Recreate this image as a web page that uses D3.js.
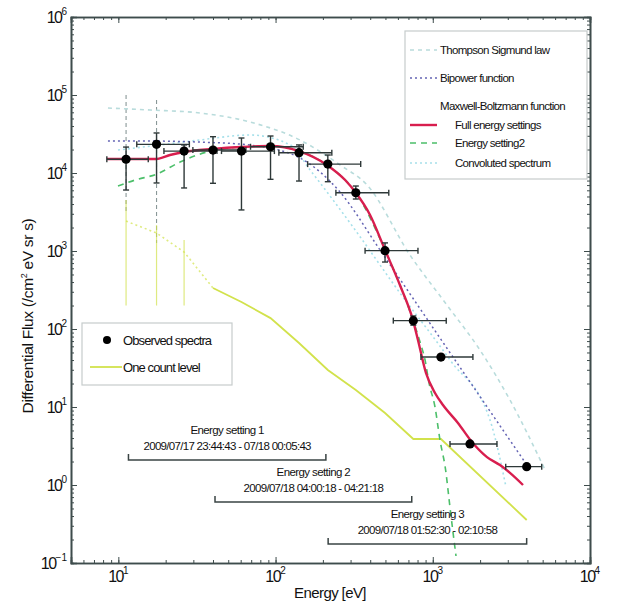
<!DOCTYPE html>
<html><head><meta charset="utf-8">
<script src="https://cdn.jsdelivr.net/npm/d3@7"></script>
<style>
body{margin:0;background:#fff;}
text{font-family:"Liberation Sans",Arial,sans-serif;fill:#111;}
</style></head><body>
<svg id="chart" width="628" height="603"></svg>
<script>
// ---------- data ----------
const xMajor = [10, 100, 1000, 10000];
const xMajorExp = ["1", "2", "3", "4"];
const yMajor = [0.1, 1, 10, 100, 1000, 10000, 100000, 1000000];
const yMajorExp = ["\u22121", "0", "1", "2", "3", "4", "5", "6"];

const obsEnergy = [11.2, 17.5, 26.2, 40.0, 60.7, 92.9, 141, 215, 324, 497, 752, 1127, 1725, 3957];
const obsFlux   = [15000, 23300, 19100, 19700, 19100, 21700, 18200, 13000, 5580, 1010, 128, 43.7, 3.36, 1.72];
const obsELow   = [8.45, 13.1, 19.5, 29.8, 45.3, 69.3, 105, 160, 242, 371, 561, 841, 1287, 2910];
const obsEHigh  = [15.5, 28.3, 42.4, 64.8, 98.3, 150, 228, 348, 525, 805, 1218, 1800, 2560, 4930];
const obsFLow   = [6050, 7450, 6430, 7380, 3360, 8300, 7890, 7730, 4640, 722, 112, 41, 3.2, 1.65];
const obsFHigh  = [21500, 32600, 22900, 29200, 28100, 29800, 22900, 17000, 6810, 1270, 147, 46, 3.5, 1.8];

const fullEnergy = [8.47, 17.1, 21.3, 26.2, 40.0, 60.3, 92.3, 141, 212, 277, 325, 399, 497, 618, 748, 805, 905, 1033, 1161, 1446, 1775, 2212, 2675, 3097, 3749];
const fullFlux   = [15100, 15100, 17000, 18600, 20300, 21500, 22200, 19100, 12700, 8130, 5540, 2900, 1030, 366, 130, 72.3, 27.3, 15.1, 10.6, 6.24, 3.56, 2.28, 1.80, 1.43, 1.0];

const set2Energy = [9.95, 12.8, 17.6, 24.7, 36.6, 60.3, 92.3, 141, 212, 325, 497, 748, 830, 893, 947, 1033, 1111, 1214, 1250, 1286, 1405];
const set2Flux   = [6810, 8130, 9700, 13800, 18600, 21500, 22200, 19100, 12700, 5540, 1030, 130, 68, 40, 20.3, 10, 3.78, 1.43, 0.863, 0.523, 0.123];

const bipEnergy = [8.59, 15.9, 33.0, 68.7, 143, 192, 257, 462, 1111, 3970];
const bipFlux   = [25700, 25700, 24900, 22800, 15600, 10300, 5700, 1030, 76.7, 1.80];

const tsEnergy = [8.59, 15.9, 33.0, 68.7, 143, 257, 382, 716, 1230, 1995, 3097, 5180];
const tsFlux   = [68100, 64200, 58800, 45100, 26500, 12700, 7020, 889, 203, 53.8, 12.3, 1.56];

const convEnergy = [9.95, 18.4, 33.0, 68.7, 124, 166, 311, 618, 1286, 2312, 2924];
const convFlux   = [19700, 22900, 26500, 30700, 22900, 10900, 2030, 290, 40.1, 6.81, 0.94];

const ocEnergy = [11.2, 17.5, 26.2, 40.0, 60.7, 92.9, 141, 215, 324, 497, 752, 1127, 3957];
const ocFlux   = [2420, 1700, 971, 336, 222, 138, 66.2, 29.8, 16.5, 8.37, 3.89, 3.89, 0.356];
const ocErrEnergy = [11.2, 17.5, 26.2];
const ocErrLow    = [200, 200, 200];
const ocErrHigh   = [4510, 2150, 1380];

const fitErrEnergy = [11.2, 17.5];
const fitErrLow    = [3160, 1270];
const fitErrHigh   = [100000, 86300];

const settingStart = [11.6, 41.2, 216];
const settingEnd   = [209, 735, 3955];
const settingTitle = ["Energy setting 1", "Energy setting 2", "Energy setting 3"];
const settingTime  = ["2009/07/17 23:44:43 - 07/18 00:05:43", "2009/07/18 04:00:18 - 04:21:18", "2009/07/18 01:52:30 - 02:10:58"];

// ---------- scales ----------
const svg = d3.select("#chart");
const x = d3.scaleLog().domain([5, 1e4]).range([71, 590]);
const y = d3.scaleLog().domain([0.1, 1e6]).range([563, 17]);
const L = 71, R = 590, T = 17, B = 563;

const C = {
  red: "#d81e4e", green: "#4cbf6a", bip: "#6464b4", ts: "#b9dcdc", conv: "#a6e0ea",
  oc: "#d2e24c", err: "#2e3838", frame: "#3e4c4c"
};

svg.append("defs").append("clipPath").attr("id", "clip")
  .append("rect").attr("x", L).attr("y", T).attr("width", R - L).attr("height", B - T);

const plot = svg.append("g").attr("clip-path", "url(#clip)");
const zip = (a, b) => a.map((v, i) => [v, b[i]]);
const line = d3.line().x(d => x(d[0])).y(d => y(d[1]));
const smooth = d3.line().x(d => x(d[0])).y(d => y(d[1])).curve(d3.curveMonotoneX);

// fit error bars (gray dashed verticals)
plot.selectAll(".fe").data(fitErrEnergy).join("line")
  .attr("x1", d => x(d)).attr("x2", d => x(d))
  .attr("y1", (d, i) => y(fitErrHigh[i])).attr("y2", (d, i) => y(fitErrLow[i]))
  .attr("stroke", "#8a9898").attr("stroke-width", 1.1).attr("stroke-dasharray", "4,3");

// one count level error bars
plot.selectAll(".oe").data(ocErrEnergy).join("line")
  .attr("x1", d => x(d)).attr("x2", d => x(d))
  .attr("y1", (d, i) => y(ocErrHigh[i])).attr("y2", (d, i) => y(ocErrLow[i]))
  .attr("stroke", C.oc).attr("stroke-width", 1.2).attr("opacity", 0.7);

// curves
const ocData = zip(ocEnergy, ocFlux);
plot.append("path").datum(ocData.slice(0, 4)).attr("d", line)
  .attr("fill", "none").attr("stroke", C.oc).attr("stroke-width", 1.6).attr("stroke-dasharray", "2,3").attr("opacity", 0.7);
plot.append("path").datum(ocData.slice(3)).attr("d", line)
  .attr("fill", "none").attr("stroke", C.oc).attr("stroke-width", 1.8);

plot.append("path").datum(zip(tsEnergy, tsFlux)).attr("d", smooth)
  .attr("fill", "none").attr("stroke", C.ts).attr("stroke-width", 1.6).attr("stroke-dasharray", "4,4");
plot.append("path").datum(zip(convEnergy, convFlux)).attr("d", smooth)
  .attr("fill", "none").attr("stroke", C.conv).attr("stroke-width", 1.6).attr("stroke-dasharray", "2,3");
plot.append("path").datum(zip(bipEnergy, bipFlux)).attr("d", smooth)
  .attr("fill", "none").attr("stroke", C.bip).attr("stroke-width", 1.5).attr("stroke-dasharray", "2,3");
plot.append("path").datum(zip(set2Energy, set2Flux)).attr("d", smooth)
  .attr("fill", "none").attr("stroke", C.green).attr("stroke-width", 1.6).attr("stroke-dasharray", "6,5");
plot.append("path").datum(zip(fullEnergy, fullFlux)).attr("d", smooth)
  .attr("fill", "none").attr("stroke", C.red).attr("stroke-width", 2.4);

// observed error bars
const eb = plot.append("g").attr("stroke", C.err).attr("stroke-width", 1.4);
obsEnergy.forEach((e, i) => {
  const cx = x(e), cy = y(obsFlux[i]);
  const x0 = x(obsELow[i]), x1 = x(obsEHigh[i]);
  eb.append("line").attr("x1", x0).attr("x2", x1).attr("y1", cy).attr("y2", cy);
  eb.append("line").attr("x1", x0).attr("x2", x0).attr("y1", cy - 3).attr("y2", cy + 3);
  eb.append("line").attr("x1", x1).attr("x2", x1).attr("y1", cy - 3).attr("y2", cy + 3);
  const y0 = y(obsFHigh[i]), y1 = y(obsFLow[i]);
  eb.append("line").attr("x1", cx).attr("x2", cx).attr("y1", y0).attr("y2", y1);
  eb.append("line").attr("x1", cx - 3).attr("x2", cx + 3).attr("y1", y0).attr("y2", y0);
  eb.append("line").attr("x1", cx - 3).attr("x2", cx + 3).attr("y1", y1).attr("y2", y1);
});
plot.selectAll(".pt").data(obsEnergy).join("circle")
  .attr("cx", d => x(d)).attr("cy", (d, i) => y(obsFlux[i])).attr("r", 4.6).attr("fill", "#000");

// ---------- annotations ----------
const annY = [460, 502, 544];
settingStart.forEach((s, i) => {
  const x0 = x(s), x1 = x(settingEnd[i]), yy = annY[i];
  svg.append("path").attr("d", `M${x0},${yy - 6}V${yy}H${x1}V${yy - 6}`)
    .attr("fill", "none").attr("stroke", "#3a4444").attr("stroke-width", 1.5);
  const cx = (x0 + x1) / 2;
  svg.append("text").attr("x", cx).attr("y", yy - 26).attr("text-anchor", "middle")
    .attr("font-size", 11.5).attr("letter-spacing", -0.6).text(settingTitle[i]);
  svg.append("text").attr("x", cx).attr("y", yy - 10).attr("text-anchor", "middle")
    .attr("font-size", 11.5).attr("letter-spacing", -0.7).text(settingTime[i]);
});

// ---------- axes ----------
const axG = svg.append("g").attr("color", C.frame);
axG.append("g").attr("transform", `translate(0,${B})`)
  .call(d3.axisBottom(x).tickValues(x.ticks()).tickSize(-3).tickFormat(""));
axG.append("g").attr("transform", `translate(0,${B})`)
  .call(d3.axisBottom(x).tickValues(xMajor).tickSize(-6).tickFormat(""));
axG.append("g").attr("transform", `translate(0,${T})`)
  .call(d3.axisTop(x).tickValues(x.ticks()).tickSize(-3).tickFormat(""));
axG.append("g").attr("transform", `translate(0,${T})`)
  .call(d3.axisTop(x).tickValues(xMajor).tickSize(-6).tickFormat(""));
axG.append("g").attr("transform", `translate(${L},0)`)
  .call(d3.axisLeft(y).tickValues(y.ticks()).tickSize(-3).tickFormat(""));
axG.append("g").attr("transform", `translate(${L},0)`)
  .call(d3.axisLeft(y).tickValues(yMajor).tickSize(-6).tickFormat(""));
axG.append("g").attr("transform", `translate(${R},0)`)
  .call(d3.axisRight(y).tickValues(y.ticks()).tickSize(-3).tickFormat(""));
axG.append("g").attr("transform", `translate(${R},0)`)
  .call(d3.axisRight(y).tickValues(yMajor).tickSize(-6).tickFormat(""));
axG.selectAll(".domain").attr("stroke-width", 1.6);

// tick labels with superscripts
xMajor.forEach((v, i) => {
  const t = svg.append("text").attr("x", x(v)).attr("y", 582).attr("text-anchor", "middle")
    .attr("font-size", 16).attr("letter-spacing", -1.5);
  t.append("tspan").text("10");
  t.append("tspan").attr("dy", -8).attr("font-size", 10).attr("letter-spacing", 0).text(xMajorExp[i]);
});
yMajor.forEach((v, i) => {
  const t = svg.append("text").attr("x", 67).attr("y", y(v) + 6).attr("text-anchor", "end")
    .attr("font-size", 16).attr("letter-spacing", -1.5);
  t.append("tspan").text("10");
  t.append("tspan").attr("dy", -8).attr("font-size", 10).attr("letter-spacing", 0).text(yMajorExp[i]);
});

svg.append("text").attr("x", 330).attr("y", 598).attr("text-anchor", "middle")
  .attr("font-size", 15).attr("letter-spacing", -0.6).text("Energy [eV]");
const yt = svg.append("text").attr("transform", "translate(33,316) rotate(-90)")
  .attr("text-anchor", "middle").attr("font-size", 15.5).attr("letter-spacing", -0.3);
yt.append("tspan").text("Differential Flux (/cm");
yt.append("tspan").attr("dy", -6).attr("font-size", 9).text("2");
yt.append("tspan").attr("dy", 6).text(" eV sr s)");

// ---------- legends ----------
const lg = svg.append("g");
lg.append("rect").attr("x", 405).attr("y", 31).attr("width", 182).attr("height", 148)
  .attr("fill", "#fff").attr("stroke", "#c6cccc").attr("stroke-width", 1.2);
const legItems = [
  {label: "Thompson Sigmund law", y: 50, tx: 440, color: C.ts, dash: "4,4", w: 1.6},
  {label: "Bipower function", y: 78, tx: 440, color: C.bip, dash: "2,3", w: 1.5},
  {label: "Maxwell-Boltzmann function", y: 106, tx: 440, color: null},
  {label: "Full energy settings", y: 125, tx: 455, color: C.red, dash: null, w: 2.4},
  {label: "Energy setting2", y: 143, tx: 455, color: C.green, dash: "6,5", w: 1.6},
  {label: "Convoluted spectrum", y: 163, tx: 455, color: C.conv, dash: "2,3", w: 1.6}
];
legItems.forEach(d => {
  if (d.color) {
    lg.append("line").attr("x1", 410).attr("x2", 437).attr("y1", d.y).attr("y2", d.y)
      .attr("stroke", d.color).attr("stroke-width", d.w).attr("stroke-dasharray", d.dash);
  }
  lg.append("text").attr("x", d.tx).attr("y", d.y + 4).attr("font-size", 11.5)
    .attr("letter-spacing", -0.7).text(d.label);
});

const lg2 = svg.append("g");
lg2.append("rect").attr("x", 82).attr("y", 323).attr("width", 150).attr("height", 62)
  .attr("fill", "#fff").attr("stroke", "#c6cccc").attr("stroke-width", 1.2);
lg2.append("circle").attr("cx", 107).attr("cy", 340).attr("r", 4).attr("fill", "#000");
lg2.append("text").attr("x", 123).attr("y", 345).attr("font-size", 13).attr("letter-spacing", -0.9).text("Observed spectra");
lg2.append("line").attr("x1", 90).attr("x2", 122).attr("y1", 367).attr("y2", 367)
  .attr("stroke", C.oc).attr("stroke-width", 1.8);
lg2.append("text").attr("x", 123).attr("y", 372).attr("font-size", 13).attr("letter-spacing", -0.9).text("One count level");
</script>
</body></html>
